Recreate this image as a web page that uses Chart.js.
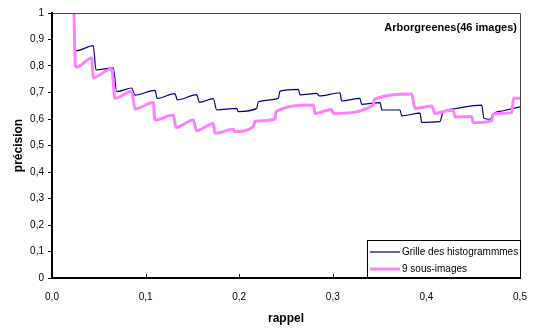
<!DOCTYPE html>
<html><head><meta charset="utf-8">
<script src="https://cdn.jsdelivr.net/npm/chart.js@4/dist/chart.umd.min.js"></script>
<style>html,body{margin:0;padding:0;background:#fff;}#wrap{width:543px;height:329px;position:relative;}</style>
</head><body><div id="wrap"><canvas id="c" width="543" height="329"></canvas></div>
<script>
const chartTitle = 'Arborgreenes(46 images)';
const xAxisTitle = 'rappel';
const yAxisTitle = 'précision';
const seriesNames = ['Grille des histogrammmes', '9 sous-images'];
const xTickLabels = ['0,0','0,1','0,2','0,3','0,4','0,5'];
const yTickLabels = ['0','0,1','0,2','0,3','0,4','0,5','0,6','0,7','0,8','0,9','1'];

const grilleX = [0.0235,0.0245,0.0264,0.0441,0.047,0.0655,0.0691,0.0851,0.0887,0.110,0.1125,0.1314,0.1339,0.1546,0.1574,0.1723,0.176,0.1973,0.199,0.2187,0.2204,0.2418,0.2436,0.2631,0.265,0.2828,0.2856,0.3077,0.3095,0.329,0.3309,0.3433,0.3505,0.3525,0.3718,0.3736,0.3932,0.395,0.4145,0.4177,0.4287,0.4591,0.4615,0.4679,0.4715,0.4822,0.5];
const grilleY = [1.0,0.86,0.858,0.877,0.785,0.793,0.703,0.717,0.69,0.708,0.678,0.696,0.672,0.692,0.663,0.677,0.634,0.640,0.628,0.640,0.665,0.678,0.705,0.712,0.691,0.697,0.687,0.699,0.668,0.678,0.655,0.66,0.662,0.634,0.634,0.612,0.622,0.587,0.59,0.625,0.638,0.652,0.603,0.599,0.62,0.631,0.646];

const sousX = [0.0235,0.025,0.0264,0.0424,0.0441,0.0638,0.0673,0.0851,0.0887,0.1082,0.110,0.1296,0.1325,0.151,0.1546,0.1723,0.1741,0.1937,0.1955,0.2151,0.2169,0.2382,0.2393,0.2792,0.281,0.2988,0.3005,0.3433,0.344,0.3843,0.3878,0.4057,0.4092,0.4217,0.4288,0.4306,0.4484,0.4501,0.4698,0.4715,0.4912,0.493,0.5];
const sousY = [1.0,0.80,0.796,0.83,0.756,0.79,0.678,0.705,0.638,0.662,0.596,0.615,0.568,0.596,0.556,0.583,0.546,0.561,0.552,0.571,0.592,0.599,0.628,0.653,0.621,0.636,0.621,0.653,0.674,0.694,0.640,0.649,0.621,0.631,0.633,0.608,0.609,0.586,0.594,0.619,0.624,0.678,0.678];

const toPoints = (xs, ys) => xs.map((x, i) => ({x: x, y: ys[i]}));

const decorPlugin = {
  id: 'decor',
  afterDraw(chart) {
    const ctx = chart.ctx;
    const a = chart.chartArea;
    const xs = chart.scales.x;
    ctx.save();
    ctx.strokeStyle = '#444';
    ctx.lineWidth = 1;
    ctx.beginPath();
    ctx.moveTo(a.left, a.top + 0.5);
    ctx.lineTo(a.right + 0.5, a.top + 0.5);
    ctx.lineTo(a.right + 0.5, a.bottom);
    ctx.stroke();
    ctx.strokeStyle = '#000';
    xs.ticks.forEach(t => {
      const px = Math.round(xs.getPixelForValue(t.value)) + 0.5;
      ctx.beginPath();
      ctx.moveTo(px, a.bottom - 4);
      ctx.lineTo(px, a.bottom);
      ctx.stroke();
    });
    ctx.fillStyle = '#000';
    ctx.font = 'bold 11px "Liberation Sans", Arial, sans-serif';
    ctx.textAlign = 'right';
    ctx.textBaseline = 'middle';
    ctx.fillText(chartTitle, a.right - 3, 28);
    const lx = 367, ly = 240, lw = a.right - 367, lh = a.bottom - 1 - 240;
    ctx.fillStyle = '#fff';
    ctx.fillRect(lx, ly, lw, lh);
    ctx.strokeStyle = '#000';
    ctx.lineWidth = 1;
    ctx.strokeRect(lx + 0.5, ly + 0.5, lw, lh);
    ctx.font = '10px "Liberation Sans", Arial, sans-serif';
    ctx.textAlign = 'left';
    ctx.textBaseline = 'middle';
    chart.data.datasets.forEach((ds, i) => {
      const y = ly + 12 + i * 17;
      ctx.strokeStyle = ds.borderColor;
      ctx.lineWidth = ds.borderWidth;
      ctx.beginPath();
      ctx.moveTo(lx + 3, y);
      ctx.lineTo(lx + 33, y);
      ctx.stroke();
      ctx.fillStyle = '#000';
      ctx.fillText(ds.label, lx + 35, y);
    });
    ctx.restore();
  }
};

new Chart(document.getElementById('c'), {
  type: 'line',
  data: {
    datasets: [
      {label: seriesNames[0], data: toPoints(grilleX, grilleY), borderColor: '#000080', borderWidth: 1.2, pointRadius: 0, cubicInterpolationMode: 'monotone', fill: false, order: 1},
      {label: seriesNames[1], data: toPoints(sousX, sousY), borderColor: '#ff80ff', borderWidth: 3, pointRadius: 0, cubicInterpolationMode: 'monotone', fill: false, order: 0}
    ]
  },
  options: {
    responsive: false,
    animation: false,
    devicePixelRatio: 1,
    layout: {padding: {top: 13, right: 23, left: 0, bottom: 0}},
    plugins: {legend: {display: false}, tooltip: {enabled: false}, title: {display: false}},
    scales: {
      x: {
        type: 'linear', min: 0, max: 0.5,
        afterFit: s => { s.height = 51; },
        afterBuildTicks: s => { s.ticks = xTickLabels.map((l, i) => ({value: i * 0.1})); },
        ticks: {callback: (v, i) => xTickLabels[i], font: {size: 10, family: '"Liberation Sans", Arial, sans-serif'}, color: '#000', padding: 13, maxRotation: 0, autoSkip: false},
        grid: {drawOnChartArea: false, drawTicks: false},
        border: {color: '#000', width: 2},
        title: {display: true, text: xAxisTitle, color: '#000', font: {size: 12, weight: 'bold', family: '"Liberation Sans", Arial, sans-serif'}, padding: {top: 0, bottom: 3}}
      },
      y: {
        min: 0, max: 1,
        afterFit: s => { s.width = 52; },
        afterBuildTicks: s => { s.ticks = yTickLabels.map((l, i) => ({value: i / 10})); },
        ticks: {callback: (v, i) => yTickLabels[i], font: {size: 10, family: '"Liberation Sans", Arial, sans-serif'}, color: '#000', padding: 4, autoSkip: false},
        grid: {drawOnChartArea: false, tickLength: 4, tickColor: '#000', tickWidth: 1},
        border: {color: '#000', width: 2},
        title: {display: true, text: yAxisTitle, color: '#000', font: {size: 12, weight: 'bold', family: '"Liberation Sans", Arial, sans-serif'}, padding: {top: 11, bottom: 0}}
      }
    }
  },
  plugins: [decorPlugin]
});
</script></body></html>
